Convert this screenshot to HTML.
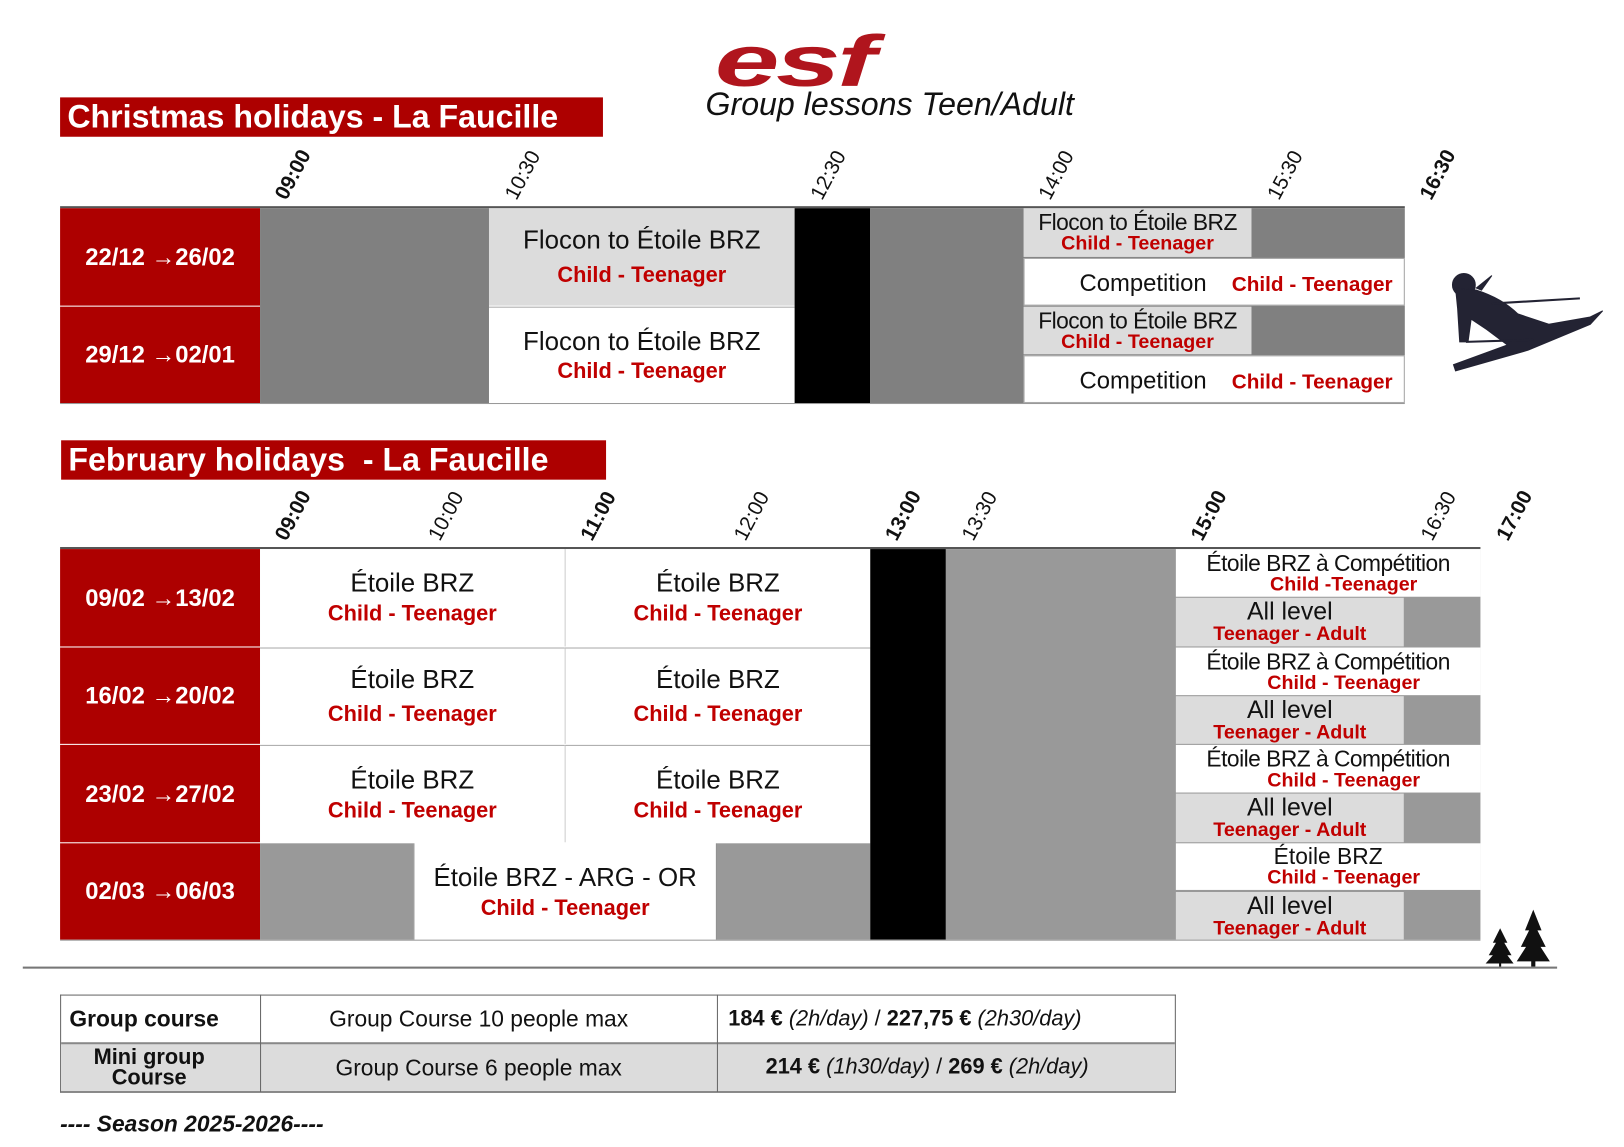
<!DOCTYPE html>
<html><head><meta charset="utf-8"><style>
html,body{margin:0;padding:0;background:#fff;width:1624px;height:1147px;overflow:hidden}
#w{position:absolute;left:0;top:0;width:1568px;height:1107px;transform:scale(1.036);transform-origin:0 0;font-family:"Liberation Sans",sans-serif}
.a{position:absolute;box-sizing:border-box}
.red{background:#ad0000}
.g{background:#808080}
.g2{background:#999}
.l{background:#dcdcdc}
.wh{background:#fff}
.bk{background:#000}
.c{display:flex;flex-direction:column;align-items:center;justify-content:center;text-align:center;line-height:1;white-space:nowrap}
.t{font-size:25px;color:#111}
.r{font-size:21px;color:#c00000;font-weight:bold}
.d{color:#fff;font-weight:bold;font-size:23px}
.tm{position:absolute;font-size:20px;line-height:20px;height:20px;transform:rotate(-62deg);transform-origin:0 100%;white-space:nowrap;color:#111;z-index:5}
.b{font-weight:bold}
.bn{position:absolute;color:#fff;font-weight:bold;font-size:31px;padding-left:7px;line-height:38px;background:#ad0000;white-space:nowrap}
</style></head><body><div id="w">
<div class="a" style="left:690px;top:24px;font-size:70px;font-weight:900;font-style:italic;color:#b0151d;letter-spacing:-2px;line-height:1;transform:scaleX(1.6);transform-origin:0 0">esf</div>
<div class="a" style="left:681px;top:83px;font-size:31px;font-style:italic;color:#111">Group lessons Teen/Adult</div>

<div class="bn" style="left:58px;top:94px;width:517px;height:38px">Christmas holidays - La Faucille</div>

<div class="tm b" style="left:280px;top:176px">09:00</div>
<div class="tm" style="left:502px;top:176px">10:30</div>
<div class="tm" style="left:797px;top:176px">12:30</div>
<div class="tm" style="left:1017px;top:176px">14:00</div>
<div class="tm" style="left:1238px;top:176px">15:30</div>
<div class="tm b" style="left:1385px;top:176px">16:30</div>

<div class="a" style="left:58px;top:199px;width:1298px;height:2px;background:#555"></div>
<div class="a red c d" style="left:58px;top:201px;width:193px;height:94px">22/12 →26/02</div>
<div class="a red c d" style="left:58px;top:296px;width:193px;height:93px">29/12 →02/01</div>
<div class="a g" style="left:251px;top:201px;width:221px;height:188px"></div>
<div class="a l c" style="left:472px;top:201px;width:295px;height:94px"><div class="t">Flocon to Étoile BRZ</div><div class="r" style="margin-top:10px">Child - Teenager</div></div>
<div class="a wh c" style="left:472px;top:296px;width:295px;height:93px;border-top:1px solid #aaa"><div class="t">Flocon to Étoile BRZ</div><div class="r" style="margin-top:5px">Child - Teenager</div></div>
<div class="a bk" style="left:767px;top:201px;width:73px;height:188px"></div>
<div class="a g" style="left:840px;top:201px;width:516px;height:188px"></div>
<div class="a l c" style="left:988px;top:201px;width:220px;height:47px"><div class="t" style="font-size:22px;letter-spacing:-0.5px">Flocon to Étoile BRZ</div><div class="r" style="font-size:19px">Child - Teenager</div></div>
<div class="a wh" style="left:988px;top:249px;width:368px;height:46px;border:1px solid #aaa"><span class="t" style="position:absolute;left:53px;top:10px;font-size:23px">Competition</span><span class="r" style="position:absolute;left:200px;top:14px;font-size:20px">Child - Teenager</span></div>
<div class="a l c" style="left:988px;top:296px;width:220px;height:46px"><div class="t" style="font-size:22px;letter-spacing:-0.5px">Flocon to Étoile BRZ</div><div class="r" style="font-size:19px">Child - Teenager</div></div>
<div class="a wh" style="left:988px;top:343px;width:368px;height:46px;border:1px solid #aaa"><span class="t" style="position:absolute;left:53px;top:10px;font-size:23px">Competition</span><span class="r" style="position:absolute;left:200px;top:14px;font-size:20px">Child - Teenager</span></div>
<div class="a" style="left:58px;top:389px;width:1298px;height:1px;background:#999"></div>

<svg class="a" style="left:1395px;top:258px" width="160" height="105" viewBox="0 0 160 105">
<g fill="#232333" stroke="#232333">
<circle cx="18" cy="17" r="11"/>
<path d="M10 20 L30 22 Q55 30 70 45 L100 55 L140 48 L152 42 L140 55 L80 80 L10 100 L8 94 L60 75 L40 60 L25 50 L22 72 L14 72 L12 40 Z"/>
<path d="M30 20 L45 8 L35 22 Z"/>
<line x1="45" y1="35" x2="130" y2="30" stroke-width="2"/>
<line x1="20" y1="72" x2="85" y2="70" stroke-width="2"/>
</g></svg>

<div class="bn" style="left:59px;top:425px;width:519px;height:38px">February holidays&nbsp; - La Faucille</div>

<div class="tm b" style="left:280px;top:505px">09:00</div>
<div class="tm" style="left:428px;top:505px">10:00</div>
<div class="tm b" style="left:575px;top:505px">11:00</div>
<div class="tm" style="left:723px;top:505px">12:00</div>
<div class="tm b" style="left:869px;top:505px">13:00</div>
<div class="tm" style="left:943px;top:505px">13:30</div>
<div class="tm b" style="left:1164px;top:505px">15:00</div>
<div class="tm" style="left:1386px;top:505px">16:30</div>
<div class="tm b" style="left:1459px;top:505px">17:00</div>

<div class="a" style="left:58px;top:528px;width:1371px;height:2px;background:#555"></div>
<div class="a red c d" style="left:58px;top:530px;width:193px;height:94px">09/02 →13/02</div>
<div class="a red c d" style="left:58px;top:625px;width:193px;height:93px">16/02 →20/02</div>
<div class="a red c d" style="left:58px;top:719px;width:193px;height:94px">23/02 →27/02</div>
<div class="a red c d" style="left:58px;top:814px;width:193px;height:93px">02/03 →06/03</div>

<div class="a wh c" style="left:251px;top:530px;width:294px;height:94px"><div class="t">Étoile BRZ</div><div class="r" style="margin-top:6px">Child - Teenager</div></div>
<div class="a wh c" style="left:545px;top:530px;width:295px;height:94px;border-left:1px solid #ccc"><div class="t">Étoile BRZ</div><div class="r" style="margin-top:6px">Child - Teenager</div></div>
<div class="a wh c" style="left:251px;top:625px;width:294px;height:93px;border-top:1px solid #aaa"><div class="t">Étoile BRZ</div><div class="r" style="margin-top:10px">Child - Teenager</div></div>
<div class="a wh c" style="left:545px;top:625px;width:295px;height:93px;border-left:1px solid #ccc;border-top:1px solid #aaa"><div class="t">Étoile BRZ</div><div class="r" style="margin-top:10px">Child - Teenager</div></div>
<div class="a wh c" style="left:251px;top:719px;width:294px;height:94px;border-top:1px solid #aaa"><div class="t">Étoile BRZ</div><div class="r" style="margin-top:6px">Child - Teenager</div></div>
<div class="a wh c" style="left:545px;top:719px;width:295px;height:94px;border-left:1px solid #ccc;border-top:1px solid #aaa"><div class="t">Étoile BRZ</div><div class="r" style="margin-top:6px">Child - Teenager</div></div>
<div class="a g2" style="left:251px;top:814px;width:148px;height:93px"></div>
<div class="a wh c" style="left:399px;top:814px;width:293px;height:93px;border-left:1px solid #888;border-right:1px solid #888"><div class="t">Étoile BRZ - ARG - OR</div><div class="r" style="margin-top:6px">Child - Teenager</div></div>
<div class="a g2" style="left:692px;top:814px;width:148px;height:93px"></div>
<div class="a bk" style="left:840px;top:530px;width:73px;height:377px"></div>
<div class="a g2" style="left:913px;top:530px;width:516px;height:377px"></div>

<div class="a wh c" style="left:1135px;top:530px;width:294px;height:46px"><div class="t" style="font-size:22px;letter-spacing:-0.5px">Étoile BRZ à Compétition</div><div class="r" style="font-size:19px;margin-left:30px">Child -Teenager</div></div>
<div class="a l c" style="left:1135px;top:577px;width:220px;height:47px"><div class="t" style="font-size:24px">All level</div><div class="r" style="font-size:19px">Teenager - Adult</div></div>
<div class="a wh c" style="left:1135px;top:625px;width:294px;height:46px"><div class="t" style="font-size:22px;letter-spacing:-0.5px">Étoile BRZ à Compétition</div><div class="r" style="font-size:19px;margin-left:30px">Child - Teenager</div></div>
<div class="a l c" style="left:1135px;top:672px;width:220px;height:46px"><div class="t" style="font-size:24px">All level</div><div class="r" style="font-size:19px">Teenager - Adult</div></div>
<div class="a wh c" style="left:1135px;top:719px;width:294px;height:46px"><div class="t" style="font-size:22px;letter-spacing:-0.5px">Étoile BRZ à Compétition</div><div class="r" style="font-size:19px;margin-left:30px">Child - Teenager</div></div>
<div class="a l c" style="left:1135px;top:766px;width:220px;height:47px"><div class="t" style="font-size:24px">All level</div><div class="r" style="font-size:19px">Teenager - Adult</div></div>
<div class="a wh c" style="left:1135px;top:814px;width:294px;height:45px"><div class="t" style="font-size:22px">Étoile BRZ</div><div class="r" style="font-size:19px;margin-left:30px">Child - Teenager</div></div>
<div class="a l c" style="left:1135px;top:861px;width:220px;height:46px"><div class="t" style="font-size:24px">All level</div><div class="r" style="font-size:19px">Teenager - Adult</div></div>
<div class="a" style="left:58px;top:907px;width:1371px;height:1px;background:#999"></div>

<svg class="a" style="left:1430px;top:876px" width="72" height="58" viewBox="0 0 72 58">
<path d="M50 2 L58 22 L54 22 L62 38 L57 38 L66 52 L52 52 L52 57 L48 57 L48 52 L34 52 L43 38 L38 38 L46 22 L42 22 Z" fill="#111"/>
<path d="M18 20 L25 34 L22 34 L29 46 L25 46 L31 54 L19 54 L19 57 L17 57 L17 54 L4 54 L11 46 L7 46 L14 34 L11 34 Z" fill="#111"/>
</svg>

<div class="a" style="left:22px;top:933px;width:1481px;height:2px;background:#777"></div>

<div class="a" style="left:58px;top:960px;width:1077px;height:95px;border:1px solid #666;border-bottom:2px solid #888"></div>
<div class="a l" style="left:59px;top:1008px;width:1075px;height:45px"></div>
<div class="a" style="left:59px;top:1006px;width:1075px;height:2px;background:#888"></div>
<div class="a" style="left:251px;top:960px;width:1px;height:94px;background:#666"></div>
<div class="a" style="left:692px;top:960px;width:1px;height:94px;background:#666"></div>
<div class="a b" style="left:67px;top:971px;font-size:22px;color:#111">Group course</div>
<div class="a b c" style="left:59px;top:1011px;width:170px;font-size:21px;color:#111;line-height:0.95">Mini group<br>Course</div>
<div class="a" style="left:252px;top:971px;width:420px;text-align:center;font-size:22px;color:#111">Group Course 10 people max</div>
<div class="a" style="left:252px;top:1018px;width:420px;text-align:center;font-size:22px;color:#111">Group Course 6 people max</div>
<div class="a" style="left:703px;top:972px;font-size:21px;color:#111"><b>184 €</b> <i>(2h/day)</i> / <b>227,75 €</b> <i>(2h30/day)</i></div>
<div class="a" style="left:739px;top:1018px;font-size:21px;color:#111"><b>214 €</b> <i>(1h30/day)</i> / <b>269 €</b> <i>(2h/day)</i></div>

<div class="a" style="left:58px;top:1072px;font-size:22px;font-style:italic;font-weight:bold;color:#111">---- Season 2025-2026----</div>
</div></body></html>
